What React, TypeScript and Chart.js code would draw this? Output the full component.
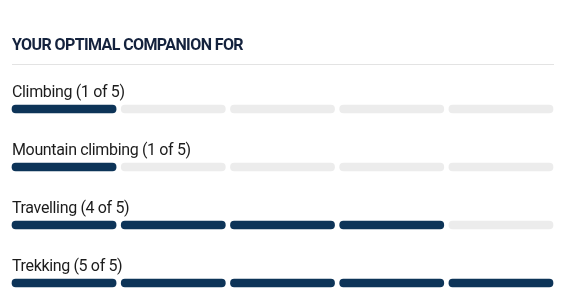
import React, { useEffect, useRef } from "react";
import { Chart, registerables } from "chart.js";

Chart.register(...registerables);

// Activities and their rating out of five
const heading = "YOUR OPTIMAL COMPANION FOR";
const activities = ["Climbing", "Mountain climbing", "Travelling", "Trekking"];
const ratings = [1, 1, 4, 5];
const maxRating = 5;

const FILLED = "#0d3458";
const EMPTY = "#ececec";
const TITLE_COLOR = "#14223d";
const TEXT_COLOR = "#1c1c1c";
const GAP = 0.047; // space between segments, in rating units

const rowLabels = activities.map((a, i) => `${a} (${ratings[i]} of ${maxRating})`);

// Heading, rule under it and a caption above every row of segments
const captionsPlugin = {
  id: "captions",
  afterDatasetsDraw(chart: any) {
    const { ctx, chartArea, scales } = chart;
    ctx.save();
    ctx.textAlign = "left";
    ctx.textBaseline = "alphabetic";
    ctx.fillStyle = TITLE_COLOR;
    ctx.font = "bold 16px Roboto";
    ctx.letterSpacing = "-0.6px";
    ctx.fillText(heading, chartArea.left, 50);
    ctx.strokeStyle = "#e3e3e3";
    ctx.lineWidth = 1;
    ctx.beginPath();
    ctx.moveTo(chartArea.left, 64.5);
    ctx.lineTo(chartArea.right + 1, 64.5);
    ctx.stroke();
    ctx.fillStyle = TEXT_COLOR;
    ctx.font = "16px Roboto";
    ctx.letterSpacing = "-0.35px";
    rowLabels.forEach((label, i) => {
      const y = scales.y.getPixelForValue(i);
      ctx.fillText(label, chartArea.left, y - 12);
    });
    ctx.restore();
  },
};

export default function App() {
  const canvasRef = useRef<HTMLCanvasElement>(null);

  useEffect(() => {
    const datasets = Array.from({ length: maxRating }, (_, s) => ({
      label: `Segment ${s + 1}`,
      data: ratings.map(() => [s + GAP / 2, s + 1 - GAP / 2]),
      backgroundColor: ratings.map((r) => (r > s ? FILLED : EMPTY)),
      borderSkipped: false,
      borderRadius: { topLeft: 4, topRight: 4, bottomLeft: 4, bottomRight: 4 },
      barThickness: 8,
      grouped: false,
      clip: false,
    }));

    const chart = new Chart(canvasRef.current!, {
      type: "bar",
      data: { labels: activities, datasets: datasets as any },
      options: {
        indexAxis: "y",
        animation: false,
        responsive: false,
        layout: { padding: { left: 12, right: 34, top: 109, bottom: 19 } },
        scales: {
          x: { display: false, min: GAP / 2, max: maxRating - GAP / 2 },
          y: { display: false, offset: false },
        },
        plugins: { legend: { display: false }, tooltip: { enabled: false } },
      },
      plugins: [captionsPlugin],
    });
    return () => chart.destroy();
  }, []);

  return (
    <div style={{ position: "fixed", left: 0, top: 0, width: 587, height: 302, background: "#fff" }}>
      <canvas ref={canvasRef} width={587} height={302} />
    </div>
  );
}
